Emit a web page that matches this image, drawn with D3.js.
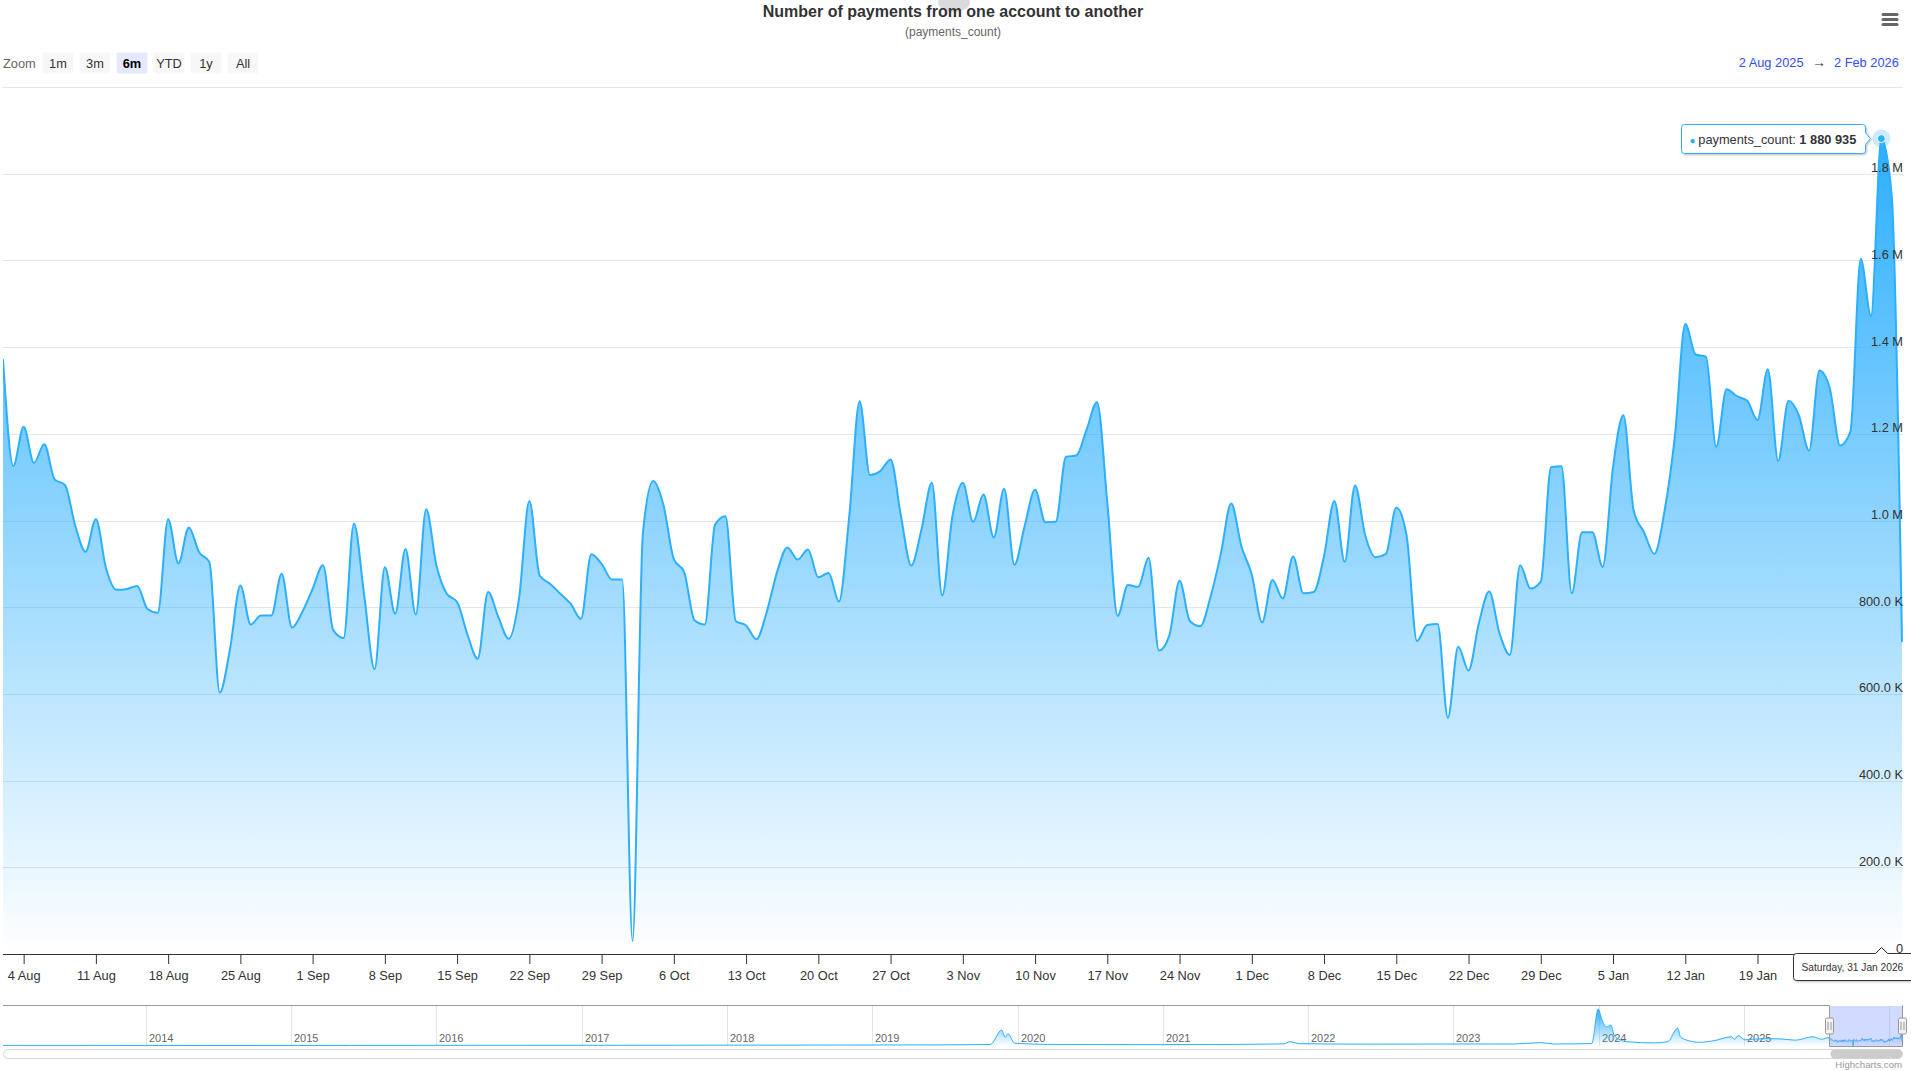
<!DOCTYPE html>
<html>
<head>
<meta charset="utf-8">
<title>Number of payments from one account to another</title>
<script src="https://cdn.jsdelivr.net/npm/d3@7"></script>
<style>
    html, body { margin: 0; padding: 0; background: #ffffff; }
    svg { display: block; font-family: "Liberation Sans", Arial, Helvetica, sans-serif; }
</style>
</head>
<body>
<script>
//wrap everything in a self-executing anonymous function to move to local scope
(function () {

    //pseudo-global variables
    var chartWidth = 1911,
        chartHeight = 1071;

    //daily payments_count, one value per day from firstDay to lastDay
    var firstDay = "2025-08-02";
    var lastDay = "2026-02-02";
    var paymentsCount = [
        1372000, 1126000, 1216000, 1133000, 1176000, 1095000, 1082000, 988000, 928000, 1003000,
        888000, 840000, 842000, 849000, 796000, 787000, 1003000, 901000, 984000, 927000,
        904000, 603000, 704000, 850000, 760000, 781000, 781000, 877000, 753000, 789000,
        842000, 897000, 747000, 729000, 993000, 827000, 657000, 892000, 785000, 934000,
        783000, 1026000, 896000, 831000, 812000, 737000, 681000, 835000, 777000, 727000,
        820000, 1045000, 873000, 854000, 831000, 808000, 773000, 922000, 900000, 864000,
        864000, 30000, 970000, 1091000, 1035000, 911000, 881000, 770000, 760000, 991000,
        1010000, 768000, 758000, 726000, 789000, 881000, 938000, 910000, 933000, 869000,
        879000, 813000, 1011000, 1275000, 1105000, 1114000, 1141000, 1011000, 896000, 980000,
        1087000, 827000, 1011000, 1087000, 997000, 1060000, 961000, 1073000, 898000, 988000,
        1071000, 996000, 997000, 1147000, 1150000, 1210000, 1273000, 1042000, 780000, 851000,
        847000, 914000, 700000, 734000, 861000, 768000, 756000, 824000, 923000, 1039000,
        940000, 875000, 765000, 863000, 820000, 917000, 832000, 835000, 918000, 1045000,
        905000, 1081000, 965000, 915000, 923000, 1030000, 965000, 722000, 759000, 761000,
        545000, 709000, 654000, 763000, 836000, 740000, 690000, 897000, 843000, 859000,
        1123000, 1125000, 832000, 973000, 973000, 893000, 1123000, 1243000, 1023000, 973000,
        923000, 1023000, 1196000, 1453000, 1383000, 1378000, 1170000, 1303000, 1287000, 1276000,
        1232000, 1349000, 1137000, 1276000, 1243000, 1161000, 1346000, 1305000, 1173000, 1205000,
        1604000, 1472000, 1880935, 1750000, 720000
    ];

    //coarse history shown in the navigator before the daily window
    var navDates = [
        "2013-01-06", "2014-06-01", "2015-06-01", "2016-06-01", "2017-06-01", "2018-06-01",
        "2019-06-01", "2019-10-25", "2019-11-22", "2019-12-01", "2019-12-08", "2019-12-25",
        "2020-04-01", "2020-12-01", "2021-06-01", "2021-11-01", "2021-11-16", "2021-12-10",
        "2022-06-01", "2022-12-01", "2023-06-01", "2023-08-10", "2023-09-10", "2023-12-15",
        "2023-12-31", "2024-01-10", "2024-01-21", "2024-02-01", "2024-02-09", "2024-02-24",
        "2024-03-12", "2024-05-20", "2024-06-23", "2024-07-18", "2024-07-25", "2024-08-08",
        "2024-09-11", "2024-10-20", "2024-11-30", "2024-12-08", "2024-12-17", "2025-01-03",
        "2025-02-15", "2025-04-04", "2025-05-10", "2025-06-23", "2025-07-15"
    ];
    var navCounts = [
        60000, 80000, 90000, 110000, 120000, 140000,
        180000, 250000, 2600000, 1400000, 2000000, 450000,
        250000, 220000, 250000, 350000, 700000, 380000,
        300000, 320000, 330000, 550000, 330000, 400000,
        6000000, 4200000, 3100000, 3400000, 1800000, 1000000,
        700000, 500000, 700000, 2900000, 1500000, 1000000,
        600000, 900000, 1500000, 1100000, 1700000, 1000000,
        1200000, 1150000, 950000, 1500000, 1100000
    ];

    var yTickValues = [0, 200000, 400000, 600000, 800000, 1000000, 1200000, 1400000, 1600000, 1800000];
    var yMaxValue = 2000000;
    var navMaxValue = 6500000;
    var zoomButtons = ["1m", "3m", "6m", "YTD", "1y", "All"];
    var selectedZoom = "6m";
    var hoverDay = "2026-01-31";
    var seriesName = "payments_count";
    var seriesColor = "#2caffe";

    //begin script when window loads
    window.onload = setChart();

    function setChart(){

        var parseDay = d3.utcParse("%Y-%m-%d");
        var start = parseDay(firstDay),
            end = parseDay(lastDay);

        //join dates to the daily values
        var dailyData = paymentsCount.map(function (v, i) {
            return { date: d3.utcDay.offset(start, i), value: v };
        });
        var navData = navDates.map(function (d, i) {
            return { date: parseDay(d), value: navCounts[i] };
        }).concat(dailyData);

        //plot frame
        var plot = { left: 3, right: 1902, top: 87, bottom: 954 };
        var nav = { top: 1006, bottom: 1046 };

        var svg = d3.select("body")
            .append("svg")
            .attr("width", chartWidth)
            .attr("height", chartHeight);

        var defs = svg.append("defs");
        makeGradient(defs, "areaFill");
        makeGradient(defs, "navFill");

        var shadow = defs.append("filter")
            .attr("id", "shadow")
            .attr("x", "-10%").attr("y", "-30%")
            .attr("width", "130%").attr("height", "180%");
        shadow.append("feDropShadow")
            .attr("dx", 1).attr("dy", 1)
            .attr("stdDeviation", 1.2)
            .attr("flood-color", "#000")
            .attr("flood-opacity", 0.25);

        defs.append("clipPath").attr("id", "plotClip")
            .append("rect")
            .attr("x", plot.left).attr("y", plot.top - 5)
            .attr("width", plot.right - plot.left + 1)
            .attr("height", plot.bottom - plot.top + 5);

        defs.append("clipPath").attr("id", "navClip")
            .append("rect")
            .attr("x", plot.left).attr("y", nav.top)
            .attr("width", plot.right - plot.left + 1)
            .attr("height", nav.bottom - nav.top);

        //scales
        var x = d3.scaleUtc().domain([start, end]).range([plot.left, plot.right]);
        var y = d3.scaleLinear().domain([0, yMaxValue]).range([plot.bottom, plot.top]);

        var xNav = d3.scaleUtc().domain([navData[0].date, end]).range([plot.left, plot.right]);
        var yNav = d3.scaleLinear().domain([0, navMaxValue]).range([nav.bottom, nav.top]);

        setTitles(svg);
        setRangeSelector(svg, start, end);
        setGrid(svg, y, plot);
        setSeries(svg, dailyData, x, y, "areaFill", 2, "url(#plotClip)");
        setAxes(svg, x, y, plot, start, end);
        setNavigator(svg, navData, xNav, yNav, nav, plot, start, end);
        setTooltip(svg, x, y, parseDay(hoverDay), dailyData);
    };

    function makeGradient(defs, id){
        var grad = defs.append("linearGradient")
            .attr("id", id)
            .attr("x1", 0).attr("y1", 0)
            .attr("x2", 0).attr("y2", 1);
        grad.append("stop").attr("offset", 0).attr("stop-color", seriesColor).attr("stop-opacity", 1);
        grad.append("stop").attr("offset", 1).attr("stop-color", seriesColor).attr("stop-opacity", 0);
    }

    function setTitles(svg){
        //grey blot behind the title, as in the screenshot
        svg.append("ellipse")
            .attr("cx", 954).attr("cy", 2)
            .attr("rx", 16).attr("ry", 10)
            .attr("fill", "#999999")
            .attr("opacity", 0.35);

        svg.append("text")
            .attr("x", 953).attr("y", 17)
            .attr("text-anchor", "middle")
            .attr("font-size", "16px")
            .attr("font-weight", "bold")
            .attr("fill", "#333333")
            .text("Number of payments from one account to another");

        svg.append("text")
            .attr("x", 953).attr("y", 36)
            .attr("text-anchor", "middle")
            .attr("font-size", "12px")
            .attr("fill", "#666666")
            .text("(" + seriesName + ")");

        //export menu symbol
        var menu = svg.append("g").attr("stroke", "#666666").attr("stroke-width", 3).attr("stroke-linecap", "round");
        [14.5, 19.5, 24.5].forEach(function (yy) {
            menu.append("line").attr("x1", 1883).attr("x2", 1897).attr("y1", yy).attr("y2", yy);
        });
    }

    function setRangeSelector(svg, start, end){
        svg.append("text")
            .attr("x", 3).attr("y", 67.5)
            .attr("font-size", "12.8px")
            .attr("fill", "#666666")
            .text("Zoom");

        var buttons = svg.selectAll(".zoomButton")
            .data(zoomButtons)
            .enter()
            .append("g")
            .attr("class", "zoomButton")
            .attr("transform", function (d, i) { return "translate(" + (42.5 + i * 37) + ",52.5)"; });

        buttons.append("rect")
            .attr("width", 31).attr("height", 21)
            .attr("rx", 2)
            .attr("fill", function (d) { return d === selectedZoom ? "#e6e9ff" : "#f7f7f7"; });

        buttons.append("text")
            .attr("x", 15.5).attr("y", 15)
            .attr("text-anchor", "middle")
            .attr("font-size", "12.8px")
            .attr("font-weight", function (d) { return d === selectedZoom ? "bold" : "normal"; })
            .attr("fill", function (d) { return d === selectedZoom ? "#000000" : "#333333"; })
            .text(function (d) { return d; });

        var fmt = d3.utcFormat("%-d %b %Y");
        svg.append("text")
            .attr("x", 1803.5).attr("y", 67)
            .attr("text-anchor", "end")
            .attr("font-size", "12.8px")
            .attr("fill", "#334eff")
            .text(fmt(start));
        svg.append("text")
            .attr("x", 1819).attr("y", 67)
            .attr("text-anchor", "middle")
            .attr("font-size", "14px")
            .attr("fill", "#333333")
            .text("\u2192");
        svg.append("text")
            .attr("x", 1834).attr("y", 67)
            .attr("font-size", "12.8px")
            .attr("fill", "#334eff")
            .text(fmt(end));
    }

    function setGrid(svg, y, plot){
        var ticks = yTickValues.concat([yMaxValue]);
        svg.append("g")
            .attr("class", "grid")
            .selectAll("line")
            .data(ticks)
            .enter()
            .append("line")
            .attr("x1", plot.left).attr("x2", plot.right + 1)
            .attr("y1", function (d) { return Math.round(y(d)) + 0.5; })
            .attr("y2", function (d) { return Math.round(y(d)) + 0.5; })
            .attr("stroke", "#e6e6e6")
            .attr("stroke-width", 1);
    }

    function setSeries(svg, data, x, y, fillId, lineWidth, clip){
        var area = d3.area()
            .x(function (d) { return x(d.date); })
            .y0(y(0))
            .y1(function (d) { return y(d.value); })
            .curve(d3.curveMonotoneX);

        var line = d3.line()
            .x(function (d) { return x(d.date); })
            .y(function (d) { return y(d.value); })
            .curve(d3.curveMonotoneX);

        var g = svg.append("g").attr("clip-path", clip);

        g.append("path")
            .datum(data)
            .attr("d", area)
            .attr("fill", "url(#" + fillId + ")");

        g.append("path")
            .datum(data)
            .attr("d", line)
            .attr("fill", "none")
            .attr("stroke", seriesColor)
            .attr("stroke-width", lineWidth)
            .attr("stroke-linejoin", "round");
    }

    function formatCount(v){
        if (v === 0) return "0";
        if (v >= 1000000) return d3.format(".1f")(v / 1000000) + " M";
        return d3.format(".1f")(v / 1000) + " K";
    }

    function setAxes(svg, x, y, plot, start, end){
        //x axis, a tick every Monday
        var xAxis = d3.axisBottom(x)
            .tickValues(d3.utcMonday.range(start, end))
            .tickFormat(d3.utcFormat("%-d %b"))
            .tickSize(10)
            .tickSizeOuter(0)
            .tickPadding(7);

        var gx = svg.append("g")
            .attr("class", "xAxis")
            .attr("transform", "translate(0," + plot.bottom + ")")
            .call(xAxis);
        gx.attr("font-size", null).attr("font-family", null);
        gx.select(".domain").attr("stroke", "#333333").attr("d", "M" + plot.left + ",0.5H" + (plot.right + 1));
        gx.selectAll(".tick line").attr("stroke", "#333333");
        gx.selectAll(".tick text").attr("fill", "#333333").attr("font-size", "12.8px");

        //y axis labels sit above the grid lines, inside the plot on the right
        var yAxis = d3.axisLeft(y)
            .tickValues(yTickValues)
            .tickSize(0)
            .tickPadding(0)
            .tickFormat(formatCount);

        var gy = svg.append("g")
            .attr("class", "yAxis")
            .attr("transform", "translate(" + (plot.right + 1) + ",0)")
            .call(yAxis);
        gy.attr("font-size", null).attr("font-family", null);
        gy.select(".domain").remove();
        gy.selectAll(".tick text")
            .attr("dy", -2)
            .attr("fill", "#333333")
            .attr("font-size", "12.8px");
    }

    function setNavigator(svg, navData, xNav, yNav, nav, plot, start, end){
        //year grid lines
        var years = d3.utcYear.range(xNav.domain()[0], xNav.domain()[1]);
        var gYears = svg.append("g").attr("class", "navYears");
        gYears.selectAll("line")
            .data(years)
            .enter()
            .append("line")
            .attr("x1", function (d) { return Math.round(xNav(d)) + 0.5; })
            .attr("x2", function (d) { return Math.round(xNav(d)) + 0.5; })
            .attr("y1", nav.top).attr("y2", nav.bottom)
            .attr("stroke", "#e6e6e6");

        gYears.selectAll("text")
            .data(years.filter(function (d) { return xNav(d) + 30 < plot.right; }))
            .enter()
            .append("text")
            .attr("x", function (d) { return Math.round(xNav(d)) + 3; })
            .attr("y", nav.bottom - 4)
            .attr("font-size", "11px")
            .attr("fill", "#666666")
            .text(d3.utcFormat("%Y"));

        setSeries(svg, navData, xNav, yNav, "navFill", 1, "url(#navClip)");

        //selected range mask, outline and handles
        var left = Math.round(xNav(start)) + 0.5,
            right = Math.round(xNav(end)) + 0.5;

        svg.append("rect")
            .attr("x", left).attr("y", nav.top)
            .attr("width", right - left).attr("height", nav.bottom - nav.top)
            .attr("fill", "rgba(102,133,255,0.3)");

        svg.append("path")
            .attr("d", "M" + plot.left + "," + (nav.top - 0.5) +
                "L" + left + "," + (nav.top - 0.5) +
                "L" + left + "," + (nav.bottom + 0.5) +
                "L" + right + "," + (nav.bottom + 0.5) +
                "L" + right + "," + (nav.top - 0.5) +
                "L" + (plot.right + 1) + "," + (nav.top - 0.5))
            .attr("fill", "none")
            .attr("stroke", "#999999");

        [left, right].forEach(function (hx) {
            var h = svg.append("g").attr("transform", "translate(" + hx + "," + ((nav.top + nav.bottom) / 2) + ")");
            h.append("rect")
                .attr("x", -4).attr("y", -8)
                .attr("width", 8).attr("height", 16)
                .attr("rx", 1.5)
                .attr("fill", "#f2f2f2").attr("stroke", "#999999");
            h.append("path")
                .attr("d", "M-1.5,-4V4M1.5,-4V4")
                .attr("stroke", "#999999");
        });

        //scrollbar
        svg.append("rect")
            .attr("x", plot.left + 0.5).attr("y", nav.bottom + 3.5)
            .attr("width", plot.right - plot.left).attr("height", 9)
            .attr("rx", 4.5)
            .attr("fill", "#ffffff").attr("stroke", "#d9d9d9");
        svg.append("rect")
            .attr("x", left + 1).attr("y", nav.bottom + 3.5)
            .attr("width", right - left - 1).attr("height", 9)
            .attr("rx", 4.5)
            .attr("fill", "#cccccc");

        svg.append("text")
            .attr("x", plot.right).attr("y", 1068)
            .attr("text-anchor", "end")
            .attr("font-size", "9.6px")
            .attr("fill", "#999999")
            .text("Highcharts.com");
    }

    function setTooltip(svg, x, y, hoverDate, dailyData){
        var point = dailyData.filter(function (d) { return +d.date === +hoverDate; })[0];
        var px = x(point.date),
            py = y(point.value);

        //hover halo and marker
        svg.append("circle")
            .attr("cx", px).attr("cy", py).attr("r", 9)
            .attr("fill", seriesColor).attr("opacity", 0.25);
        svg.append("circle")
            .attr("cx", px).attr("cy", py).attr("r", 4)
            .attr("fill", seriesColor).attr("stroke", "#ffffff").attr("stroke-width", 1);

        //series label, to the left of the point
        var tip = svg.append("g");
        var tipBox = tip.append("path");
        var tipText = tip.append("text")
            .attr("font-size", "12.8px")
            .attr("fill", "#333333");
        tipText.append("tspan").attr("fill", seriesColor).attr("font-size", "10px").text("\u25CF ");
        tipText.append("tspan").text(seriesName + ": ");
        tipText.append("tspan").attr("font-weight", "bold").text(d3.format(",")(point.value).replace(/,/g, " "));

        var textLen = tipText.node().getComputedTextLength();
        var boxRight = Math.round(px - 16) + 0.5,
            boxLeft = Math.round(boxRight - textLen - 18) + 0.5,
            boxTop = Math.round(py - 14.5) + 0.5,
            boxBottom = boxTop + 29;
        tipText.attr("x", boxLeft + 8).attr("y", boxTop + 19);

        var p = d3.path();
        p.moveTo(boxLeft + 3, boxTop);
        p.lineTo(boxRight - 3, boxTop);
        p.quadraticCurveTo(boxRight, boxTop, boxRight, boxTop + 3);
        p.lineTo(boxRight, py - 6);
        p.lineTo(boxRight + 5, py);
        p.lineTo(boxRight, py + 6);
        p.lineTo(boxRight, boxBottom - 3);
        p.quadraticCurveTo(boxRight, boxBottom, boxRight - 3, boxBottom);
        p.lineTo(boxLeft + 3, boxBottom);
        p.quadraticCurveTo(boxLeft, boxBottom, boxLeft, boxBottom - 3);
        p.lineTo(boxLeft, boxTop + 3);
        p.quadraticCurveTo(boxLeft, boxTop, boxLeft + 3, boxTop);
        p.closePath();
        tipBox.attr("d", p.toString())
            .attr("fill", "#ffffff")
            .attr("stroke", seriesColor)
            .attr("stroke-width", 1)
            .attr("filter", "url(#shadow)");

        //date label hanging under the x axis
        var head = svg.append("g");
        var headBox = head.append("path");
        var headText = head.append("text")
            .attr("font-size", "10.2px")
            .attr("fill", "#333333")
            .text(d3.utcFormat("%A, %-d %b %Y")(point.date));

        var headLen = headText.node().getComputedTextLength();
        var hTop = 953.5,
            hBottom = 980.5,
            hRight = Math.min(Math.round(px + headLen / 2 + 8) + 0.5, chartWidth - 0.5),
            hLeft = Math.round(hRight - headLen - 16) + 0.5,
            ax = Math.round(px) + 0.5;
        headText.attr("x", hLeft + 8).attr("y", hTop + 17);

        //the axis label hidden under this box is not shown in the screenshot
        d3.selectAll(".xAxis .tick text")
            .filter(function (d) { return x(d) + 20 > hLeft; })
            .remove();

        var q = d3.path();
        q.moveTo(hLeft + 3, hTop);
        q.lineTo(ax - 6, hTop);
        q.lineTo(ax, hTop - 6);
        q.lineTo(ax + 6, hTop);
        q.lineTo(hRight + 3, hTop);
        q.lineTo(hRight + 3, hBottom);
        q.lineTo(hLeft + 3, hBottom);
        q.quadraticCurveTo(hLeft, hBottom, hLeft, hBottom - 3);
        q.lineTo(hLeft, hTop + 3);
        q.quadraticCurveTo(hLeft, hTop, hLeft + 3, hTop);
        q.closePath();
        headBox.attr("d", q.toString())
            .attr("fill", "#ffffff")
            .attr("stroke", "#333333")
            .attr("stroke-width", 1)
            .attr("filter", "url(#shadow)");
    }

})(); //last line of the script
</script>
</body>
</html>
